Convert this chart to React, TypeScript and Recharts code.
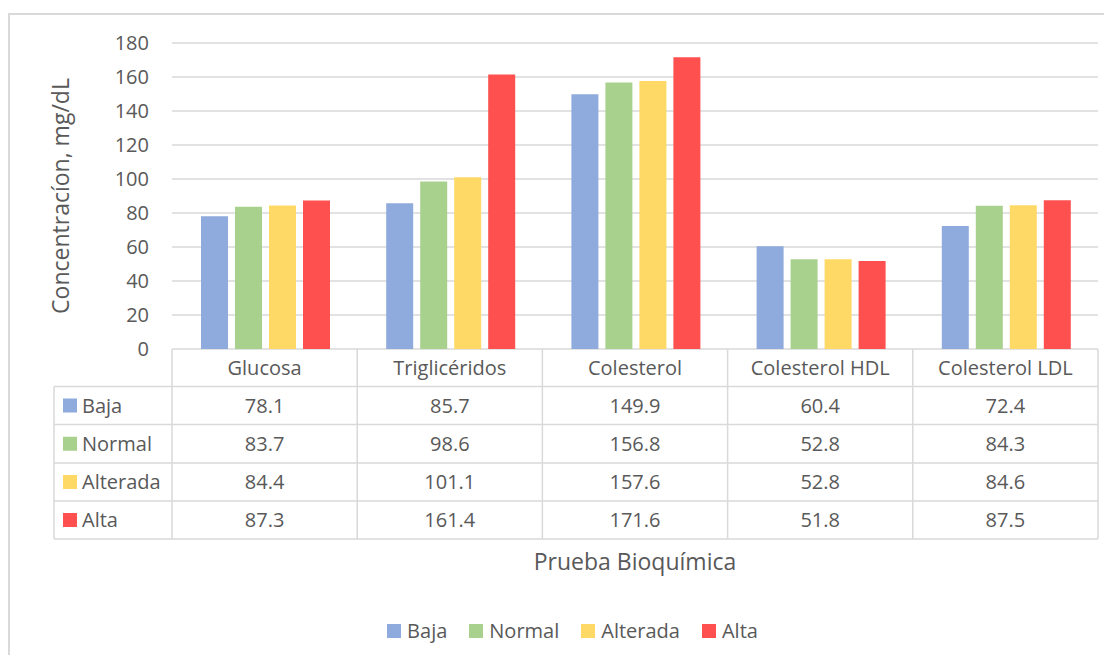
import { Bar, BarChart, CartesianGrid, Legend, XAxis, YAxis } from 'recharts';

const categories = ['Glucosa', 'Triglicéridos', 'Colesterol', 'Colesterol HDL', 'Colesterol LDL'];
const baja = [78.1, 85.7, 149.9, 60.4, 72.4];
const normal = [83.7, 98.6, 156.8, 52.8, 84.3];
const alterada = [84.4, 101.1, 157.6, 52.8, 84.6];
const alta = [87.3, 161.4, 171.6, 51.8, 87.5];
const yTicks = [0, 20, 40, 60, 80, 100, 120, 140, 160, 180];

const series = [
  { key: 'baja', name: 'Baja', values: baja, color: '#8FAADC' },
  { key: 'normal', name: 'Normal', values: normal, color: '#A9D18E' },
  { key: 'alterada', name: 'Alterada', values: alterada, color: '#FFD966' },
  { key: 'alta', name: 'Alta', values: alta, color: '#FF5050' },
];

const data = categories.map((cat, i) => ({
  cat,
  baja: baja[i],
  normal: normal[i],
  alterada: alterada[i],
  alta: alta[i],
}));

// layout (chart-local px)
const CHART_W = 1125;
const CHART_H = 650;
const PLOT_L = 162;
const PLOT_T = 28;
const PLOT_R = 1088;
const PLOT_B = 334;
const X_AXIS_H = 230;
const BAND = (PLOT_R - PLOT_L) / categories.length;
const ROW_Y = [PLOT_B, 371.5, 409.5, 448, 486, 524];
const TABLE_L = 44;

const TEXT = '#595959';
const LINE = '#D9D9D9';

const rowMid = (r: number) => (ROW_Y[r] + ROW_Y[r + 1]) / 2;

// each x tick draws its own column of the data table under the plot
function TableColumn(props: any) {
  const { x, payload } = props;
  const i = payload.index ?? props.index;
  const left = x - BAND / 2;
  const right = x + BAND / 2;
  return (
    <g fontSize={20} fill={TEXT}>
      {i === 0 && (
        <g>
          {ROW_Y.slice(1).map((y) => (
            <line key={y} x1={TABLE_L} x2={PLOT_R} y1={y} y2={y} stroke={LINE} strokeWidth={1.5} />
          ))}
          <line x1={TABLE_L} x2={TABLE_L} y1={ROW_Y[1]} y2={ROW_Y[5]} stroke={LINE} strokeWidth={1.5} />
          <line x1={left} x2={left} y1={ROW_Y[0]} y2={ROW_Y[5]} stroke={LINE} strokeWidth={1.5} />
          {series.map((s, r) => (
            <g key={s.key}>
              <rect x={53} y={rowMid(r + 1) - 7} width={14} height={14} fill={s.color} />
              <text x={72} y={rowMid(r + 1)} dy="0.36em" fill={TEXT}>
                {s.name}
              </text>
            </g>
          ))}
        </g>
      )}
      <line x1={right} x2={right} y1={ROW_Y[0]} y2={ROW_Y[5]} stroke={LINE} strokeWidth={1.5} />
      <text x={x} y={rowMid(0)} dy="0.36em" textAnchor="middle" fill={TEXT}>
        {payload.value}
      </text>
      {series.map((s, r) => (
        <text key={s.key} x={x} y={rowMid(r + 1)} dy="0.36em" textAnchor="middle" fill={TEXT}>
          {s.values[i].toFixed(1)}
        </text>
      ))}
    </g>
  );
}

function LegendRow({ payload }: any) {
  // keep series order (recharts sorts legend items by name otherwise)
  const items = [...(payload ?? [])].sort(
    (a: any, b: any) =>
      series.findIndex((s) => s.name === a.value) - series.findIndex((s) => s.name === b.value),
  );
  return (
    <div style={{ display: 'flex', justifyContent: 'center', alignItems: 'center', gap: 22, lineHeight: '20px' }}>
      {items.map((p: any) => (
        <div key={p.value} style={{ display: 'flex', alignItems: 'center' }}>
          <span style={{ width: 14, height: 14, background: p.color, marginRight: 6, display: 'inline-block' }} />
          <span style={{ fontSize: 20, color: TEXT }}>{p.value}</span>
        </div>
      ))}
    </div>
  );
}

export default function App() {
  return (
    <div style={{ paddingTop: 5, marginBottom: -8 }}>
      <div style={{ width: 1100, height: 650, overflow: 'hidden' }}>
        <div
          style={{
            width: 1140,
            height: 700,
            border: `2px solid ${LINE}`,
            boxSizing: 'border-box',
            background: '#fff',
            fontFamily: '"Open Sans", sans-serif',
          }}
        >
          <BarChart
            width={CHART_W}
            height={CHART_H}
            data={data}
            margin={{ top: PLOT_T, right: CHART_W - PLOT_R, bottom: CHART_H - PLOT_B - X_AXIS_H, left: 0 }}
            barCategoryGap={29}
            barGap={7}
          >
            <CartesianGrid vertical={false} stroke={LINE} strokeWidth={1.5} />
            <XAxis
              dataKey="cat"
              height={X_AXIS_H}
              axisLine={false}
              tickLine={false}
              tickSize={0}
              tickMargin={0}
              interval={0}
              tick={(p: any) => <TableColumn {...p} />}
              label={(p: any) => {
                const vb = p.viewBox ?? { x: PLOT_L, width: PLOT_R - PLOT_L };
                return (
                  <text x={vb.x + vb.width / 2} y={547} dy="0.36em" textAnchor="middle" fontSize={23} fill={TEXT}>
                    Prueba Bioquímica
                  </text>
                );
              }}
            />
            <YAxis
              width={PLOT_L}
              domain={[0, 180]}
              ticks={yTicks}
              interval={0}
              axisLine={false}
              tickLine={false}
              tickSize={0}
              tickMargin={23}
              tick={{ fill: TEXT, fontSize: 20 }}
              label={(p: any) => {
                const vb = p.viewBox ?? { y: PLOT_T, height: PLOT_B - PLOT_T };
                const cy = vb.y + vb.height / 2;
                return (
                  <text
                    x={51}
                    y={cy}
                    dy="0.36em"
                    textAnchor="middle"
                    fontSize={23}
                    fill={TEXT}
                    transform={`rotate(-90, 51, ${cy})`}
                  >
                    Concentracíon, mg/dL
                  </text>
                );
              }}
            />
            <Legend
              layout="horizontal"
              verticalAlign="middle"
              align="center"
              wrapperStyle={{ top: 606, left: 0, width: CHART_W, height: 20 }}
              content={<LegendRow />}
            />
            {series.map((s) => (
              <Bar key={s.key} dataKey={s.key} name={s.name} fill={s.color} isAnimationActive={false} />
            ))}
          </BarChart>
        </div>
      </div>
    </div>
  );
}
